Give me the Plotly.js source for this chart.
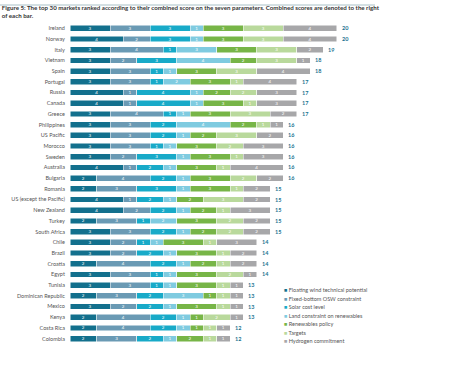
<!DOCTYPE html>
<html>
<head>
<meta charset="utf-8">
<script src="https://cdn.plot.ly/plotly-3.0.1.min.js"></script>
<style>html,body{margin:0;padding:0;background:#fff;}#chart{width:450px;height:371px;}</style>
</head>
<body>
<div id="chart"></div>
<script>
var countries = ["Ireland","Norway","Italy","Vietnam","Spain","Portugal","Russia","Canada","Greece","Philippines","US Pacific","Morocco","Sweden","Australia","Bulgaria","Romania","US (except the Pacific)","New Zealand","Turkey","South Africa","Chile","Brazil","Croatia","Egypt","Tunisia","Dominican Republic","Mexico","Kenya","Costa Rica","Colombia"];
var floatingWind = [3,4,3,3,3,3,4,4,3,3,3,3,3,4,2,2,4,4,2,3,3,3,2,3,3,2,3,2,2,2];
var fixedBottom  = [3,2,4,2,3,3,1,1,4,3,3,3,2,1,4,3,1,2,3,3,2,2,4,3,3,3,2,4,4,3];
var solarCost    = [3,3,1,3,1,1,4,4,1,2,2,1,3,2,2,3,2,2,1,2,1,2,2,1,1,2,2,2,2,2];
var landConstr   = [1,1,3,4,1,2,1,1,1,4,1,1,1,1,1,1,1,1,2,1,1,1,1,1,1,3,1,1,1,1];
var policy       = [3,3,3,2,3,3,2,3,3,2,2,3,3,3,3,3,2,2,3,2,3,3,2,3,3,1,3,1,1,2];
var targets      = [3,3,3,3,3,1,2,1,3,1,3,2,1,1,2,1,3,1,2,2,1,1,1,2,1,1,1,2,1,1];
var hydrogen     = [4,4,2,1,4,4,3,3,2,1,2,3,3,4,2,2,2,3,2,2,3,2,2,1,1,1,1,1,1,1];
var scores       = [20,20,19,18,18,17,17,17,17,16,16,16,16,16,16,15,15,15,15,15,14,14,14,14,13,13,13,13,12,12];
var seriesNames = ["Floating wind technical potential","Fixed-bottom OSW constraint","Solar cost level","Land constraint on renewables","Renewables policy","Targets","Hydrogen commitment"];
var seriesColors = ["#13708d","#6a9ab4","#18aac8","#7fcbe0","#77b547","#b9d99c","#a7a7a9"];
var seriesValues = [floatingWind, fixedBottom, solarCost, landConstr, policy, targets, hydrogen];

var FONT = "Lato, 'Open Sans', sans-serif";
var ML = 70, MT = 23, MB = 27, W = 450, H = 371;
var PW = W - ML, PH = H - MT - MB;
function px(x){ return (x - ML) / PW; }
function py(y){ return (H - MB - y) / PH; }

var traces = seriesValues.map(function(vals, i){
  return {
    type: 'bar', orientation: 'h',
    x: vals, y: countries, name: seriesNames[i],
    marker: {color: seriesColors[i], line: {color: '#ffffff', width: 0.5}},
    text: vals.map(String), textposition: 'inside', insidetextanchor: 'middle',
    constraintext: 'none',
    textfont: {color: '#ffffff', size: 4.5, family: FONT},
    hoverinfo: 'x+y+name', showlegend: false
  };
});

var annotations = [];
countries.forEach(function(c, i){
  annotations.push({
    x: scores[i], y: c, xref: 'x', yref: 'y', text: '<b>' + scores[i] + '</b>',
    showarrow: false, xanchor: 'left', xshift: 3,
    font: {size: 5.5, color: '#1a7390', family: FONT}
  });
});
seriesNames.forEach(function(n, i){
  annotations.push({
    x: px(282), y: py(290 + i * 8.5), xref: 'paper', yref: 'paper',
    xanchor: 'left', yanchor: 'middle', showarrow: false,
    text: '<span style="color:' + seriesColors[i] + '">■</span> ' + n,
    font: {size: 5.5, color: '#555555', family: FONT}
  });
});

var layout = {
  width: W, height: H,
  margin: {l: ML, r: 0, t: MT, b: MB, pad: 0},
  paper_bgcolor: '#ffffff', plot_bgcolor: '#ffffff',
  barmode: 'stack', bargap: 0.45,
  showlegend: false,
  title: {
    text: '<b>Figure 5: The top 30 markets ranked according to their combined score on the seven parameters. Combined scores are denoted to the right<br>of each bar.</b>',
    x: 0.004, xanchor: 'left', xref: 'container',
    y: 0.974, yanchor: 'top', yref: 'container',
    font: {size: 6.15, color: '#333333', family: FONT}
  },
  xaxis: {range: [0, 28.5], showgrid: false, zeroline: false, showticklabels: false, ticks: '', fixedrange: true},
  yaxis: {type: 'category', autorange: 'reversed', showgrid: false, zeroline: false, ticks: 'outside', ticklen: 3, tickcolor: 'rgba(0,0,0,0)',
          tickfont: {size: 5.5, color: '#555555', family: FONT}},
  shapes: [{type: 'line', xref: 'paper', yref: 'paper', x0: px(0), x1: px(375), y0: py(5), y1: py(5), line: {color: '#a9c0c6', width: 1}}],
  annotations: annotations
};

Plotly.newPlot('chart', traces, layout, {staticPlot: true, displayModeBar: false});
</script>
</body>
</html>
